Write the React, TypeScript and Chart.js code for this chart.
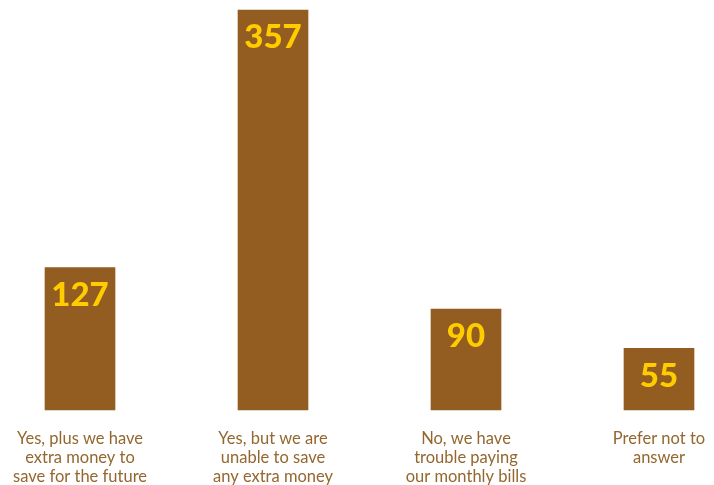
import React, { useEffect, useRef } from "react";
import { Chart, registerables } from "chart.js";
Chart.register(...registerables);

const categories: string[][] = [
  ["Yes, plus we have", "extra money to", "save for the future"],
  ["Yes, but we are", "unable to save", "any extra money"],
  ["No, we have", "trouble paying", "our monthly bills"],
  ["Prefer not to", "answer"],
];
const counts: number[] = [127, 357, 90, 55];

const BAR = "#935D22";
const VALUE = "#FFCC00";
const LABEL = "#94672F";

const valuePlugin = {
  id: "valueLabels",
  afterDatasetsDraw(chart: any) {
    const ctx = chart.ctx;
    const meta = chart.getDatasetMeta(0);
    ctx.save();
    ctx.fillStyle = VALUE;
    ctx.font = "900 33px Lato";
    ctx.textAlign = "center";
    ctx.textBaseline = "top";
    meta.data.forEach((el: any, i: number) => {
      ctx.fillText(String(counts[i]), el.x, el.y + 11);
    });
    ctx.restore();
  },
};

export default function App() {
  const ref = useRef<HTMLCanvasElement>(null);
  useEffect(() => {
    if (!ref.current) return;
    const chart = new Chart(ref.current, {
      type: "bar",
      data: {
        labels: categories,
        datasets: [
          {
            data: counts,
            backgroundColor: BAR,
            barThickness: 70,
            clip: false as any,
          },
        ],
      },
      options: {
        animation: false,
        responsive: false,
        layout: { padding: { left: 80, right: 55, top: 10, bottom: 0 } },
        plugins: { legend: { display: false }, tooltip: { enabled: false } },
        scales: {
          x: {
            offset: false,
            grid: { display: false, drawTicks: false },
            border: { display: false },
            afterFit: (scale: any) => {
              scale.height = 75;
              scale.paddingLeft = 0;
              scale.paddingRight = 0;
            },
            ticks: {
              color: LABEL,
              font: { family: "Lato", size: 16.5, lineHeight: "19px" as any },
              padding: 19,
              maxRotation: 0,
              autoSkip: false,
            },
          },
          y: {
            display: false,
            min: 0,
            max: 357,
          },
        },
      },
      plugins: [valuePlugin],
    });
    return () => chart.destroy();
  }, []);
  return (
    <div style={{ position: "fixed", left: 0, top: 0, width: 714, height: 485, background: "#fff" }}>
      <canvas ref={ref} width={714} height={485} style={{ width: 714, height: 485 }} />
    </div>
  );
}
